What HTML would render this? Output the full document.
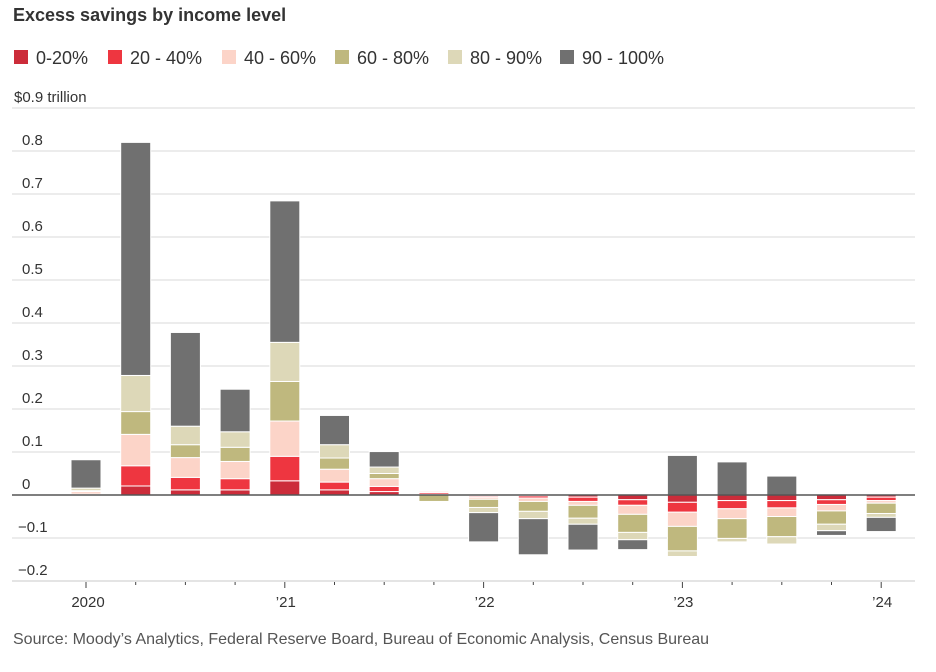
<!DOCTYPE html>
<html><head><meta charset="utf-8"><style>
body{margin:0;background:#fff;width:936px;height:667px;overflow:hidden;font-family:"Liberation Sans",sans-serif}
svg text{font-family:"Liberation Sans",sans-serif}
</style></head><body>
<svg id="chart" width="936" height="667" viewBox="0 0 936 667" xmlns="http://www.w3.org/2000/svg">
<text x="13" y="21" font-size="18" font-weight="bold" fill="#333">Excess savings by income level</text>
<g id="legend"></g>
<g id="grid"></g>
<g id="bars"></g>
<g id="xaxis"></g>
<text x="13" y="644" font-size="16" fill="#555">Source: Moody’s Analytics, Federal Reserve Board, Bureau of Economic Analysis, Census Bureau</text>
</svg>
<script>
const seriesNames=["0-20%","20 - 40%","40 - 60%","60 - 80%","80 - 90%","90 - 100%"];
const colors=["#cc2c3a","#ee3640","#fcd4c8","#bfb87e","#ddd8b8","#707070"];
const quarters=["2020Q1","2020Q2","2020Q3","2020Q4","2021Q1","2021Q2","2021Q3","2021Q4","2022Q1","2022Q2","2022Q3","2022Q4","2023Q1","2023Q2","2023Q3","2023Q4","2024Q1"];
const s0=[0.001,0.021,0.012,0.012,0.033,0.012,0.008,0.002,-0.002,-0.002,-0.005,-0.011,-0.017,-0.013,-0.013,-0.011,-0.005];
const s1=[0.001,0.047,0.029,0.026,0.057,0.018,0.012,0.004,-0.003,-0.005,-0.010,-0.013,-0.023,-0.019,-0.017,-0.011,-0.008];
const s2=[0.006,0.073,0.046,0.040,0.082,0.030,0.018,0.003,-0.005,-0.008,-0.009,-0.021,-0.033,-0.023,-0.020,-0.015,-0.006];
const s3=[0.002,0.053,0.030,0.033,0.092,0.026,0.012,-0.015,-0.019,-0.023,-0.030,-0.042,-0.057,-0.046,-0.047,-0.031,-0.024];
const s4=[0.006,0.084,0.043,0.036,0.091,0.031,0.015,0.002,-0.012,-0.017,-0.014,-0.017,-0.013,-0.008,-0.017,-0.015,-0.009];
const s5=[0.066,0.542,0.218,0.099,0.329,0.068,0.036,0.002,-0.068,-0.084,-0.060,-0.023,0.092,0.077,0.044,-0.011,-0.033];
const yTicks=[-0.2,-0.1,0,0.1,0.2,0.3,0.4,0.5,0.6,0.7,0.8,0.9];
const yTickLabels=["−0.2","−0.1","0","0.1","0.2","0.3","0.4","0.5","0.6","0.7","0.8","$0.9 trillion"];
const yearLabels={0:"2020",4:"’21",8:"’22",12:"’23",16:"’24"};
const series=[s0,s1,s2,s3,s4,s5];
const NS="http://www.w3.org/2000/svg";
function y(v){return 495-v*430;}
function x(i){return 86+i*49.7;}
function mk(tag,attrs,parent){const e=document.createElementNS(NS,tag);for(const k in attrs)e.setAttribute(k,attrs[k]);parent.appendChild(e);return e;}
const legend=document.getElementById('legend');
const lx=[14,108,222,335,448,560];
seriesNames.forEach((n,i)=>{
  const r=mk('rect',{x:lx[i],y:50,width:14,height:14,fill:colors[i]},legend);
  
  
  const t=mk('text',{x:lx[i]+22,y:64,'font-size':18,fill:'#333'},legend);
  t.textContent=n;
  
  
});
const grid=document.getElementById('grid');
yTicks.forEach((v,i)=>{
  if(v!==0){const l=mk('line',{x1:12,x2:915,y1:y(v),y2:y(v),stroke:'#e6e6e6','stroke-width':1.5},grid);
  
  }
  const t=mk('text',{x:v===0.9?14:(v<0?18:22),y:y(v)-6,'font-size':15,fill:'#333'},grid);
  t.textContent=yTickLabels[i];
  
  
});
const bars=document.getElementById('bars');
quarters.forEach((q,i)=>{
  let pos=0,neg=0;
  series.forEach((s,k)=>{
    const v=s[i];let y0,y1;
    if(v>=0){y0=y(pos+v);y1=y(pos);pos+=v;}else{y0=y(neg);y1=y(neg+v);neg+=v;}
    const r=mk('rect',{x:x(i)-15,y:y0,width:30,height:Math.max(0,y1-y0),fill:colors[k],stroke:'#fff','stroke-width':1},bars);
    
    
  });
});
const xa=document.getElementById('xaxis');
const z=mk('line',{x1:12,x2:915,y1:495,y2:495,stroke:'#555','stroke-width':1.5},xa);


const b=mk('line',{x1:12,x2:915,y1:581,y2:581,stroke:'#e0e0e0','stroke-width':1.5},xa);


quarters.forEach((q,i)=>{
  const big=yearLabels[i]!==undefined;
  const tk=mk('line',{x1:x(i),x2:x(i),y1:582,y2:big?588:585,stroke:'#444','stroke-width':1},xa);
  
  
  if(big){const t=mk('text',{x:x(i)+(i===0?2:1),y:607,'font-size':15,fill:'#333','text-anchor':'middle'},xa);
    t.textContent=yearLabels[i];
    
    }
});
</script>
</body></html>
